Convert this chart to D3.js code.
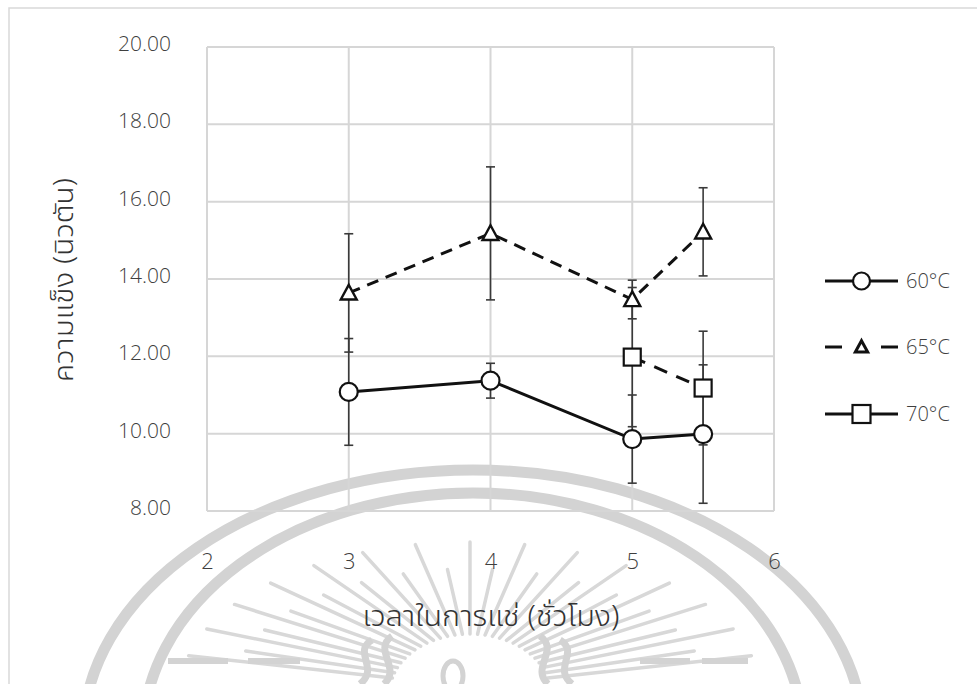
<!DOCTYPE html>
<html>
<head>
<meta charset="utf-8">
<script src="https://cdn.jsdelivr.net/npm/d3@7"></script>
<style>
  html, body { margin: 0; padding: 0; background: #fff; }
  svg { display: block; }
  text { font-family: "Noto Sans Thai", "Tahoma", "Noto Sans", "DejaVu Sans", sans-serif; }
  .num { font-family: "Open Sans", "Noto Sans", sans-serif; font-weight: 300; }
  .ttl { font-weight: 300; }
</style>
</head>
<body>
<svg id="chart" width="977" height="684"></svg>
<script>
// Soaking time (hours) at which hardness was measured
const hours = [3, 4, 5, 5.5];

// Mean hardness (N) and standard deviation for each soaking temperature
const hardness60 = [11.08, 11.37, 9.86, 9.99];
const sd60       = [1.38, 0.45, 1.14, 1.79];
const hardness65 = [13.64, 15.18, 13.47, 15.22];
const sd65       = [1.53, 1.72, 0.50, 1.14];
const hardness70 = [null, null, 11.98, 11.18];
const sd70       = [null, null, 1.80, 1.47];

const seriesNames = ["60°C", "65°C", "70°C"];
const xTicks = [2, 3, 4, 5, 6];
const yTicks = [8, 10, 12, 14, 16, 18, 20];

const yTitle = "ความแข็ง (นิวตัน)";
const xTitle = "เวลาในการแช่ (ชั่วโมง)";

const W = 977, H = 684;
const plot = { left: 207, right: 774, top: 47, bottom: 511 };

const svg = d3.select("#chart");
svg.append("rect").attr("width", W).attr("height", H).attr("fill", "#fff");

// ---- faint emblem in the background ----
const mark = svg.append("g").attr("fill", "none").attr("stroke", "#d3d3d3");
const ecx = 473;
mark.append("ellipse").attr("cx", ecx).attr("cy", 736).attr("rx", 390).attr("ry", 266).attr("stroke-width", 11);
mark.append("ellipse").attr("cx", ecx).attr("cy", 736).attr("rx", 330).attr("ry", 243).attr("stroke-width", 11);
const rayC = { x: 470, y: 692 };
const nRays = 29;
for (let i = 0; i < nRays; i++) {
  const t = (14 + (152 * i) / (nRays - 1)) * Math.PI / 180;
  const f = i % 2 === 0 ? 1 : 0.82;
  const x0 = rayC.x + Math.cos(t) * 80, y0 = rayC.y - Math.sin(t) * 58;
  const x1 = rayC.x + Math.cos(t) * 290 * f, y1 = rayC.y - Math.sin(t) * 150 * f;
  mark.append("line").attr("x1", x0).attr("y1", y0).attr("x2", x1).attr("y2", y1)
    .attr("stroke", "#d8d8d8").attr("stroke-width", 3.5).attr("stroke-linecap", "round");
}
mark.append("ellipse").attr("cx", 453).attr("cy", 676).attr("rx", 10).attr("ry", 15).attr("stroke-width", 5);
[[168, 228], [248, 300], [640, 690], [702, 748]].forEach(([a, b]) => {
  mark.append("line").attr("x1", a).attr("x2", b).attr("y1", 661).attr("y2", 661).attr("stroke-width", 6);
});
["M372,640 C352,652 380,668 360,684", "M392,636 C372,650 402,668 384,684",
 "M560,640 C580,652 552,668 572,684", "M540,636 C560,650 530,668 548,684"].forEach(d => {
  mark.append("path").attr("d", d).attr("stroke-width", 7);
});

// ---- chart frame ----
svg.append("rect").attr("x", 9).attr("y", 8).attr("width", W).attr("height", H)
  .attr("fill", "none").attr("stroke", "#d9d9d9").attr("stroke-width", 1.5);

const x = d3.scaleLinear().domain([2, 6]).range([plot.left, plot.right]);
const y = d3.scaleLinear().domain([8, 20]).range([plot.bottom, plot.top]);

// gridlines
const grid = svg.append("g").attr("stroke", "#d6d6d6").attr("stroke-width", 2);
grid.selectAll("line.h").data(yTicks).join("line").attr("class", "h")
  .attr("x1", plot.left).attr("x2", plot.right).attr("y1", d => y(d)).attr("y2", d => y(d));
grid.selectAll("line.v").data(xTicks).join("line").attr("class", "v")
  .attr("y1", plot.top).attr("y2", plot.bottom).attr("x1", d => x(d)).attr("x2", d => x(d));

// axes (labels only)
const yAxis = svg.append("g").attr("transform", `translate(${plot.left - 36},0)`)
  .call(d3.axisLeft(y).tickValues(yTicks).tickFormat(d3.format(".2f")).tickSize(0).tickPadding(0));
yAxis.select(".domain").remove();
yAxis.selectAll("text").attr("class", "num").attr("font-size", 21).attr("fill", "#3f3f3f").attr("dy", "0.17em");

const xAxis = svg.append("g").attr("transform", `translate(0,${plot.bottom + 58})`)
  .call(d3.axisBottom(x).tickValues(xTicks).tickFormat(d3.format("d")).tickSize(0).tickPadding(0));
xAxis.select(".domain").remove();
xAxis.selectAll("text").attr("class", "num").attr("font-size", 22).attr("fill", "#3f3f3f").attr("dy", "0");

// axis titles
svg.append("text").attr("class", "ttl").attr("transform", `translate(73,280) rotate(-90)`)
  .attr("text-anchor", "middle").attr("font-size", 27).attr("fill", "#333")
  .attr("textLength", 204).attr("lengthAdjust", "spacingAndGlyphs").text(yTitle);
svg.append("text").attr("class", "ttl").attr("x", 491).attr("y", 626)
  .attr("text-anchor", "middle").attr("font-size", 29).attr("fill", "#333")
  .attr("textLength", 257).attr("lengthAdjust", "spacingAndGlyphs").text(xTitle);

// ---- series ----
const series = [
  { name: seriesNames[0], vals: hardness60, sd: sd60, dash: null, legendDash: false, marker: "circle" },
  { name: seriesNames[1], vals: hardness65, sd: sd65, dash: "12,8", legendDash: true, marker: "triangle" },
  { name: seriesNames[2], vals: hardness70, sd: sd70, dash: "14,10", legendDash: false, marker: "square" }
];
series.forEach(s => {
  s.pts = hours.map((h, i) => ({ h, v: s.vals[i], e: s.sd[i] })).filter(p => p.v != null);
});

// error bars
const eb = svg.append("g").attr("stroke", "#3a3a3a").attr("stroke-width", 1.6);
series.forEach(s => {
  s.pts.forEach(p => {
    const cx = x(p.h), y0 = y(p.v - p.e), y1 = y(p.v + p.e);
    eb.append("line").attr("x1", cx).attr("x2", cx).attr("y1", y0).attr("y2", y1);
    eb.append("line").attr("x1", cx - 4.5).attr("x2", cx + 4.5).attr("y1", y0).attr("y2", y0);
    eb.append("line").attr("x1", cx - 4.5).attr("x2", cx + 4.5).attr("y1", y1).attr("y2", y1);
  });
});

// lines
const line = d3.line().x(p => x(p.h)).y(p => y(p.v));
series.forEach(s => {
  svg.append("path").datum(s.pts).attr("d", line).attr("fill", "none")
    .attr("stroke", "#111").attr("stroke-width", 3)
    .attr("stroke-dasharray", s.dash);
});

// markers
function drawMarker(g, type, cx, cy, size, sw) {
  if (type === "circle") {
    g.append("circle").attr("cx", cx).attr("cy", cy).attr("r", size)
      .attr("fill", "#fff").attr("stroke", "#111").attr("stroke-width", sw || 2.2);
  } else if (type === "square") {
    g.append("rect").attr("x", cx - size).attr("y", cy - size).attr("width", 2 * size).attr("height", 2 * size)
      .attr("fill", "#fff").attr("stroke", "#111").attr("stroke-width", sw || 2.2);
  } else {
    const h = size * 1.75, w = size * 1.9;
    g.append("path").attr("d", `M${cx},${cy - h * 0.55}L${cx + w / 2},${cy + h * 0.45}L${cx - w / 2},${cy + h * 0.45}Z`)
      .attr("fill", "#fff").attr("stroke", "#111").attr("stroke-width", sw || 2.4).attr("stroke-linejoin", "miter");
  }
}
const mk = svg.append("g");
series.forEach(s => {
  const sz = s.marker === "circle" ? 9 : s.marker === "square" ? 8.5 : 8.4;
  s.pts.forEach(p => drawMarker(mk, s.marker, x(p.h), y(p.v), sz));
});

// ---- legend ----
const legendY = [281, 347, 414];
const lg = svg.append("g");
series.forEach((s, i) => {
  const ly = legendY[i];
  if (s.legendDash) {
    lg.append("line").attr("x1", 825).attr("x2", 842).attr("y1", ly).attr("y2", ly).attr("stroke", "#111").attr("stroke-width", 3);
    lg.append("line").attr("x1", 881).attr("x2", 898).attr("y1", ly).attr("y2", ly).attr("stroke", "#111").attr("stroke-width", 3);
  } else {
    lg.append("line").attr("x1", 825).attr("x2", 898).attr("y1", ly).attr("y2", ly).attr("stroke", "#111").attr("stroke-width", 3);
  }
  const sz = s.marker === "circle" ? 8.5 : s.marker === "square" ? 9 : 6.5;
  drawMarker(lg, s.marker, 861.5, ly, sz, s.marker === "triangle" ? 3 : null);
  lg.append("text").attr("class", "num").attr("x", 906).attr("y", ly).attr("dy", "0.35em")
    .attr("font-size", 20).attr("fill", "#3f3f3f").text(s.name);
});
</script>
</body>
</html>
